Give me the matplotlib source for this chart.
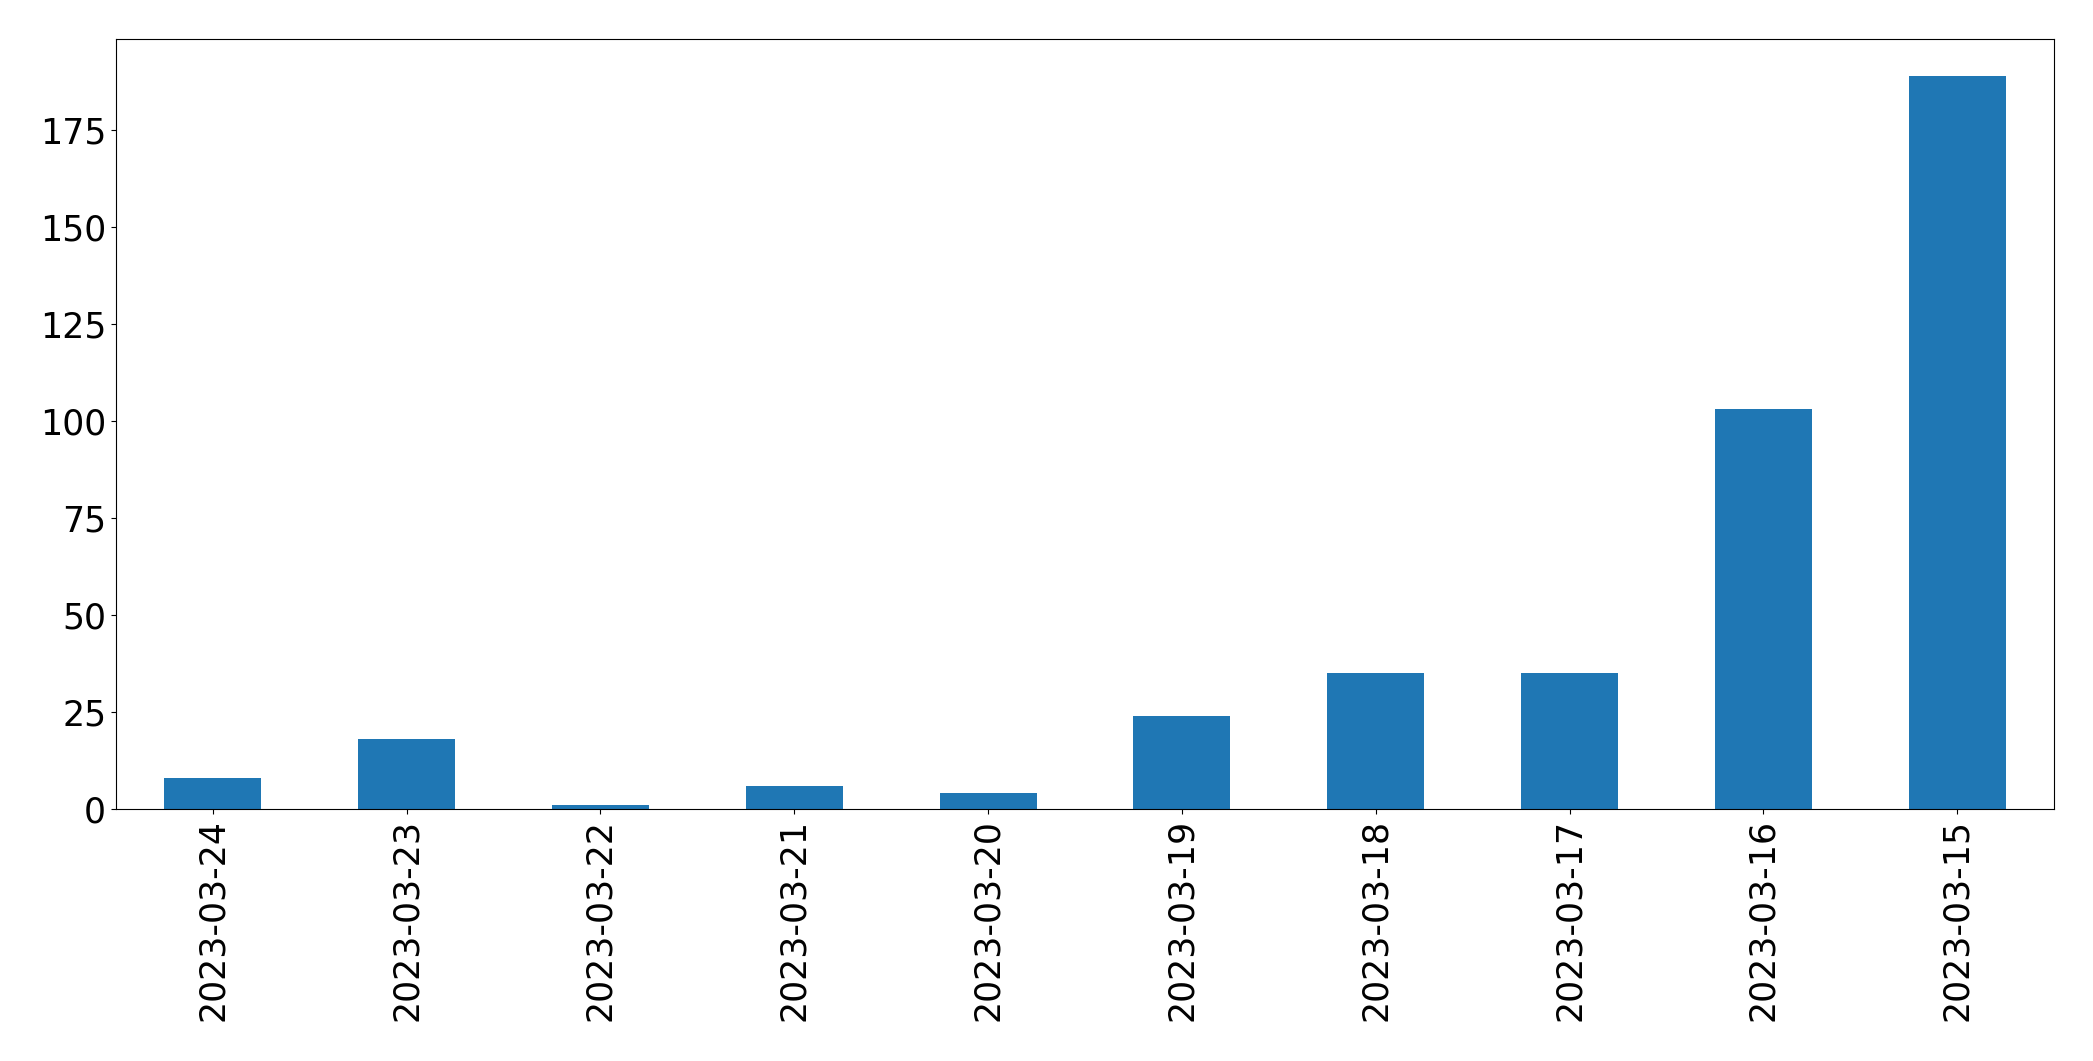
import matplotlib
matplotlib.use("Agg")
import matplotlib.pyplot as plt
import pandas as pd

# conteo por dia
dates = ["2023-03-24", "2023-03-23", "2023-03-22", "2023-03-21", "2023-03-20",
         "2023-03-19", "2023-03-18", "2023-03-17", "2023-03-16", "2023-03-15"]
counts = [8, 18, 1, 6, 4, 24, 35, 35, 103, 189]

s = pd.Series(counts, index=dates)

fig = plt.figure(figsize=(20.93, 10.61), dpi=100)
ax = fig.add_subplot(111)
s.plot(kind="bar", ax=ax, color="#1f77b4", fontsize=25)
fig.subplots_adjust(left=0.0554, right=0.9814, top=0.9632, bottom=0.2375)
fig.savefig("out.png", dpi=100)
